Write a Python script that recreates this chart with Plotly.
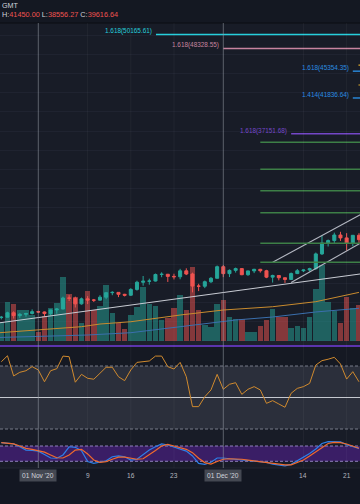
import pandas as pd
import plotly.graph_objects as go

# ---------------- data ----------------
dates = [d.strftime('%Y-%m-%d') for d in pd.date_range('2020-10-26', '2020-12-23', freq='D')]

open_ = [13030, 13070, 13650, 13280, 13460, 13560,
         13800, 13760, 13550, 14030, 14150, 15590, 15570, 14830, 15480, 15330,
         15310, 15700, 16290, 16330, 16080, 15960, 16720, 17660, 17800, 17820,
         18680, 18710, 18430, 18380, 19160, 18740, 17160, 17140, 17730, 18180,
         19700, 18790, 19220, 19450, 18650, 19150, 19360, 19170, 18330, 18550,
         18250, 18030, 18800, 19170, 19270, 19440, 21380, 22820, 23130, 23860,
         23480, 22740, 23820]
high = [13240, 13790, 13850, 13640, 13660, 14100,
        13900, 13820, 14070, 14250, 15770, 15970, 15770, 15650, 15840, 15470,
        15960, 16340, 16480, 16330, 16140, 16880, 17860, 18480, 18130, 18800,
        18960, 18750, 18780, 19420, 19490, 18920, 17460, 17880, 18350, 19850,
        19920, 19340, 19580, 19510, 19170, 19420, 19420, 19290, 18650, 18560,
        18280, 18940, 19400, 19300, 19560, 21560, 23800, 23270, 24170, 24280,
        24100, 23850, 24100]
low = [12790, 13060, 12900, 12990, 13130, 13430,
       13620, 13200, 13300, 13530, 14100, 15200, 14350, 14720, 14800, 15070,
       15280, 15440, 15960, 15710, 15800, 15880, 16560, 17210, 17340, 17760,
       18320, 17700, 18030, 18050, 18600, 16330, 16500, 16890, 17550, 18180,
       18330, 18340, 18930, 18590, 18500, 18860, 18920, 18200, 17620, 17910,
       17570, 18020, 18730, 19000, 19060, 19290, 21240, 22350, 22800, 23080,
       21820, 22380, 22700]
close = [13070, 13650, 13280, 13460, 13560, 13800,
         13760, 13550, 14030, 14150, 15590, 15570, 14830, 15480, 15330, 15310,
         15700, 16290, 16330, 16080, 15960, 16720, 17660, 17800, 17820, 18680,
         18710, 18430, 18380, 19160, 18740, 17160, 17140, 17730, 18180, 19700,
         18790, 19220, 19450, 18650, 19150, 19360, 19170, 18330, 18550, 18250,
         18030, 18800, 19170, 19270, 19440, 21380, 22820, 23130, 23860, 23480,
         22740, 23820, 23250]
volume = [19, 39.3, 37, 31, 31, 26,
          9.3, 25, 33, 38, 63.7, 47, 44.3, 18, 50, 31,
          35, 56, 27.7, 18, 12, 26, 34.3, 53.7, 37, 35,
          21, 22.7, 32.7, 46, 31, 74.3, 31, 16, 13.7, 37,
          41, 23.7, 21.7, 22, 9.3, 9.3, 15.3, 21, 31.7, 23.7,
          23.7, 12.7, 15, 12.7, 24.3, 52, 76, 39.3, 30.3, 18.3,
          44.3, 32.7, 36]
rsi = [72.7, 76.5, 63.7, 66.0, 67.0, 69.6, 67.5, 60.0, 67.0, 68.3,
       76.3, 75.9, 59.7, 64.7, 62.2, 61.6, 65.4, 69.2, 69.2, 63.2,
       60.7, 67.5, 72.3, 72.7, 73.2, 76.3, 76.3, 69.6, 68.1, 72.3,
       63.2, 44.2, 44.2, 50.5, 54.8, 64.7, 55.2, 58.4, 59.4, 52.0,
       55.2, 56.9, 54.8, 46.3, 48.0, 45.9, 43.8, 52.7, 55.8, 56.9,
       59.0, 70.6, 73.4, 74.3, 75.5, 71.3, 61.7, 66.4, 60.0]
stoch_k = [93, 90, 88, 77, 64, 63, 60, 47, 33, 32,
           45, 77, 75, 62, 19, 12, 16, 22, 38, 41,
           38, 25, 28, 45, 64, 77, 88, 84, 75, 69,
           60, 41, 12, 8, 16, 33, 33, 30, 28, 25,
           22, 21, 19, 16, 9, 4, 2, 8, 22, 38,
           51, 68, 90, 97, 97, 96, 85, 77, 71]
stoch_d = [93, 90, 88, 80, 71, 67, 63, 56, 45, 34,
           33, 45, 64, 67, 49, 25, 16, 19, 28, 36,
           36, 32, 28, 30, 45, 62, 80, 86, 80, 75,
           67, 54, 32, 15, 9, 19, 28, 30, 30, 28,
           25, 22, 19, 16, 13, 9, 6, 6, 15, 25,
           41, 58, 75, 90, 94, 93, 88, 80, 71]

ma_orange_dates = ['2020-10-25', '2020-11-01', '2020-11-08', '2020-11-11', '2020-11-16',
                   '2020-11-24', '2020-12-01', '2020-12-09', '2020-12-16', '2020-12-23']
ma_orange = [11000, 11395, 11830, 12180, 12480, 13360, 14020, 14450, 15110, 16330]
ma_blue_dates = ['2020-10-25', '2020-11-01', '2020-11-09', '2020-11-16', '2020-11-24',
                 '2020-12-03', '2020-12-09', '2020-12-16', '2020-12-23']
ma_blue = [10400, 10545, 10740, 11040, 11870, 12710, 13100, 13760, 14240]

trend_long_dates = ['2020-10-25', '2020-12-24']
trend_long = [12269, 18826]
channel_up_dates = ['2020-12-09', '2020-12-24']
channel_up = [20280, 26850]
channel_lo_dates = ['2020-12-12', '2020-12-24']
channel_lo = [17620, 23150]

fib_labels = ['1.618(50165.61)', '1.618(48328.55)', '1.618(45354.35)', '1.414(41836.64)', '1.618(37151.68)']
fib_prices = [50165.61, 48328.55, 45354.35, 41836.64, 37151.68]
fib_starts = ['2020-11-20 02:00', '2020-12-01', '2020-12-22', '2020-12-22', '2020-12-12']
fib_colors = ['#26cfdc', '#c7849f', '#2a8ce0', '#2a8ce0', '#7447c8']

green_levels = [36022, 32479, 29672, 26785, 22770, 20278]
green_start = '2020-12-07'
yellow_levels = [46160, 43540]
yellow_start = '2020-12-22 22:00'
line_end = '2020-12-25'

tick_dates = ['2020-11-01', '2020-11-09', '2020-11-16', '2020-11-23', '2020-12-01', '2020-12-14', '2020-12-21']
tick_texts = ["01 Nov '20", '9', '16', '23', "01 Dec '20", '14', '21']
tick_boxed = [True, False, False, False, True, False, False]

header_h, header_l, header_c = '41450.00', '38556.27', '39616.64'

# ---------------- styling / layout helpers ----------------
W, H = 360, 504
def py(p):
    return 1 - p / H

GREEN = '#26a69a'
RED = '#ef5350'
DAY_MS = 86400000

main_dom = [py(346), py(23)]
rsi_dom = [py(440), py(346)]
sto_dom = [py(468), py(440)]

fig = go.Figure()

vol_colors = ['rgba(38,166,154,0.5)' if c >= o else 'rgba(239,83,80,0.5)' for o, c in zip(open_, close)]
fig.add_trace(go.Bar(x=dates, y=volume, marker=dict(color=vol_colors, line=dict(width=0)),
                     width=0.88 * DAY_MS, xaxis='x', yaxis='y', hoverinfo='skip'))

# moving averages (drawn on price scale)
fig.add_trace(go.Scatter(x=ma_blue_dates, y=ma_blue, mode='lines', line=dict(color='#3a6fae', width=1),
                         xaxis='x', yaxis='y2'))
fig.add_trace(go.Scatter(x=ma_orange_dates, y=ma_orange, mode='lines', line=dict(color='#c98b2e', width=1),
                         xaxis='x', yaxis='y2'))

# trend lines
for xs, ys, col in [(trend_long_dates, trend_long, '#c9ccd4'),
                    (channel_up_dates, channel_up, '#b4b8c2'),
                    (channel_lo_dates, channel_lo, '#b4b8c2')]:
    fig.add_trace(go.Scatter(x=xs, y=ys, mode='lines', line=dict(color=col, width=1.1),
                             xaxis='x', yaxis='y2'))

# green fib levels
for lv in green_levels:
    fig.add_trace(go.Scatter(x=[green_start, line_end], y=[lv, lv], mode='lines',
                             line=dict(color='#3d7f47', width=1.4), xaxis='x', yaxis='y2'))
for lv in yellow_levels:
    fig.add_trace(go.Scatter(x=[yellow_start, line_end], y=[lv, lv], mode='lines',
                             line=dict(color='#d9a62b', width=1.2), xaxis='x', yaxis='y2'))

annotations = []
for lab, pr, st, col in zip(fib_labels, fib_prices, fib_starts, fib_colors):
    fig.add_trace(go.Scatter(x=[st, line_end], y=[pr, pr], mode='lines',
                             line=dict(color=col, width=1.4), xaxis='x', yaxis='y2'))
    annotations.append(dict(x=st, y=pr, xref='x', yref='y2', text=lab, showarrow=False,
                            xanchor='right', yanchor='middle', xshift=-2, yshift=3,
                            font=dict(family='Liberation Sans', size=6.4, color=col)))

fig.add_trace(go.Candlestick(x=dates, open=open_, high=high, low=low, close=close,
                             xaxis='x', yaxis='y2', whiskerwidth=0,
                             increasing=dict(line=dict(color=GREEN, width=1), fillcolor=GREEN),
                             decreasing=dict(line=dict(color=RED, width=1), fillcolor=RED)))

# RSI
fig.add_trace(go.Scatter(x=dates, y=rsi, mode='lines', line=dict(color='#d08a2e', width=1),
                         xaxis='x', yaxis='y3'))
# Stochastic
fig.add_trace(go.Scatter(x=dates, y=stoch_k, mode='lines', line=dict(color='#2d7fe8', width=1.2),
                         xaxis='x', yaxis='y4'))
fig.add_trace(go.Scatter(x=dates, y=stoch_d, mode='lines', line=dict(color='#f06a2c', width=1.2),
                         xaxis='x', yaxis='y4'))

shapes = []
def prect(y0px, y1px, color):
    shapes.append(dict(type='rect', xref='paper', yref='paper', x0=0, x1=1, y0=py(y1px), y1=py(y0px),
                       fillcolor=color, line=dict(width=0), layer='below'))

prect(0, 23, '#141822')
prect(23, 468, '#181c27')
prect(341, 346, '#1d212c')
prect(346, 366, '#151923')
prect(468, 504, '#131722')

# RSI band & levels
shapes.append(dict(type='rect', xref='paper', yref='y3', x0=0, x1=1, y0=30, y1=70,
                   fillcolor='#2b2f3b', line=dict(width=0), layer='below'))
for lv in (30, 70):
    shapes.append(dict(type='line', xref='paper', yref='y3', x0=0, x1=1, y0=lv, y1=lv,
                       line=dict(color='#777b88', width=1, dash='3px,2px'), layer='below'))
shapes.append(dict(type='line', xref='paper', yref='y3', x0=0, x1=1, y0=50, y1=50,
                   line=dict(color='#c5c8cf', width=1.2), layer='below'))
# Stoch band & levels
shapes.append(dict(type='rect', xref='paper', yref='y4', x0=0, x1=1, y0=20, y1=80,
                   fillcolor='#3a1e66', line=dict(width=0), layer='below'))
for lv in (20, 80):
    shapes.append(dict(type='line', xref='paper', yref='y4', x0=0, x1=1, y0=lv, y1=lv,
                       line=dict(color='#8f80bd', width=1, dash='3px,2px'), layer='below'))

# separators
shapes.append(dict(type='line', xref='paper', yref='paper', x0=0, x1=1, y0=py(23), y1=py(23),
                   line=dict(color='#0b0d12', width=1.2), layer='above'))
shapes.append(dict(type='line', xref='paper', yref='paper', x0=0, x1=1, y0=py(346), y1=py(346),
                   line=dict(color='#5b34ad', width=2), layer='above'))
shapes.append(dict(type='line', xref='paper', yref='paper', x0=0, x1=1, y0=py(468), y1=py(468),
                   line=dict(color='#232733', width=1), layer='above'))

# vertical grid / marker lines
for td, boxed in zip(tick_dates, tick_boxed):
    col = 'rgba(150,154,166,0.55)' if boxed else 'rgba(255,255,255,0.045)'
    shapes.append(dict(type='line', xref='x', yref='paper', x0=td, x1=td, y0=py(468), y1=py(23),
                       line=dict(color=col, width=1), layer='above'))

# time axis labels
for td, tt, boxed in zip(tick_dates, tick_texts, tick_boxed):
    a = dict(x=td, y=py(475.5), xref='x', yref='paper', text=tt, showarrow=False,
             xanchor='center', yanchor='middle',
             font=dict(family='Liberation Sans', size=6.6, color='#d1d4dc' if boxed else '#b2b5be'))
    if boxed:
        a.update(bgcolor='#444852', borderpad=2)
    annotations.append(a)

# header legend
annotations.append(dict(x=0, y=py(5.5), xref='paper', yref='paper', text='GMT', showarrow=False,
                        xanchor='left', yanchor='middle',
                        font=dict(family='Liberation Sans', size=7.2, color='#d1d4dc')))
lab = '#d1d4dc'
hdr = (f"<span style='color:{lab}'>H:</span><span style='color:{RED}'>{header_h}</span> "
       f"<span style='color:{lab}'>L:</span><span style='color:{RED}'>{header_l}</span> "
       f"<span style='color:{lab}'>C:</span><span style='color:{RED}'>{header_c}</span>")
annotations.append(dict(x=0, y=py(14.8), xref='paper', yref='paper', text=hdr, showarrow=False,
                        xanchor='left', yanchor='middle',
                        font=dict(family='Liberation Sans', size=7.3, color=lab)))

hidden = dict(showticklabels=False, showgrid=False, zeroline=False, showline=False, ticks='')
fig.update_layout(
    width=W, height=H, autosize=False,
    margin=dict(l=0, r=0, t=0, b=0, pad=0),
    paper_bgcolor='#131722', plot_bgcolor='rgba(0,0,0,0)',
    showlegend=False, hovermode=False, bargap=0,
    xaxis=dict(domain=[0, 1], type='date', range=['2020-10-25 18:56', '2020-12-23 04:00'],
               rangeslider=dict(visible=False), anchor='y', **hidden),
    yaxis=dict(domain=main_dom, range=[-5, 318], anchor='x', **hidden),
    yaxis2=dict(overlaying='y', range=[9297, 51674], anchor='x', side='right',
                showticklabels=False, zeroline=False, showline=False, ticks='',
                showgrid=True, gridcolor='#1f2330', gridwidth=1, tick0=0, dtick=2500),
    yaxis3=dict(domain=rsi_dom, range=[23.02, 82.70], anchor='x', **hidden),
    yaxis4=dict(domain=sto_dom, range=[-6.27, 103.53], anchor='x', **hidden),
    shapes=shapes, annotations=annotations,
)

fig.write_html('out.html', config={'displayModeBar': False},
               post_script="document.body.style.margin='0';document.body.style.padding='0';"
                           "document.body.style.background='#131722';")
